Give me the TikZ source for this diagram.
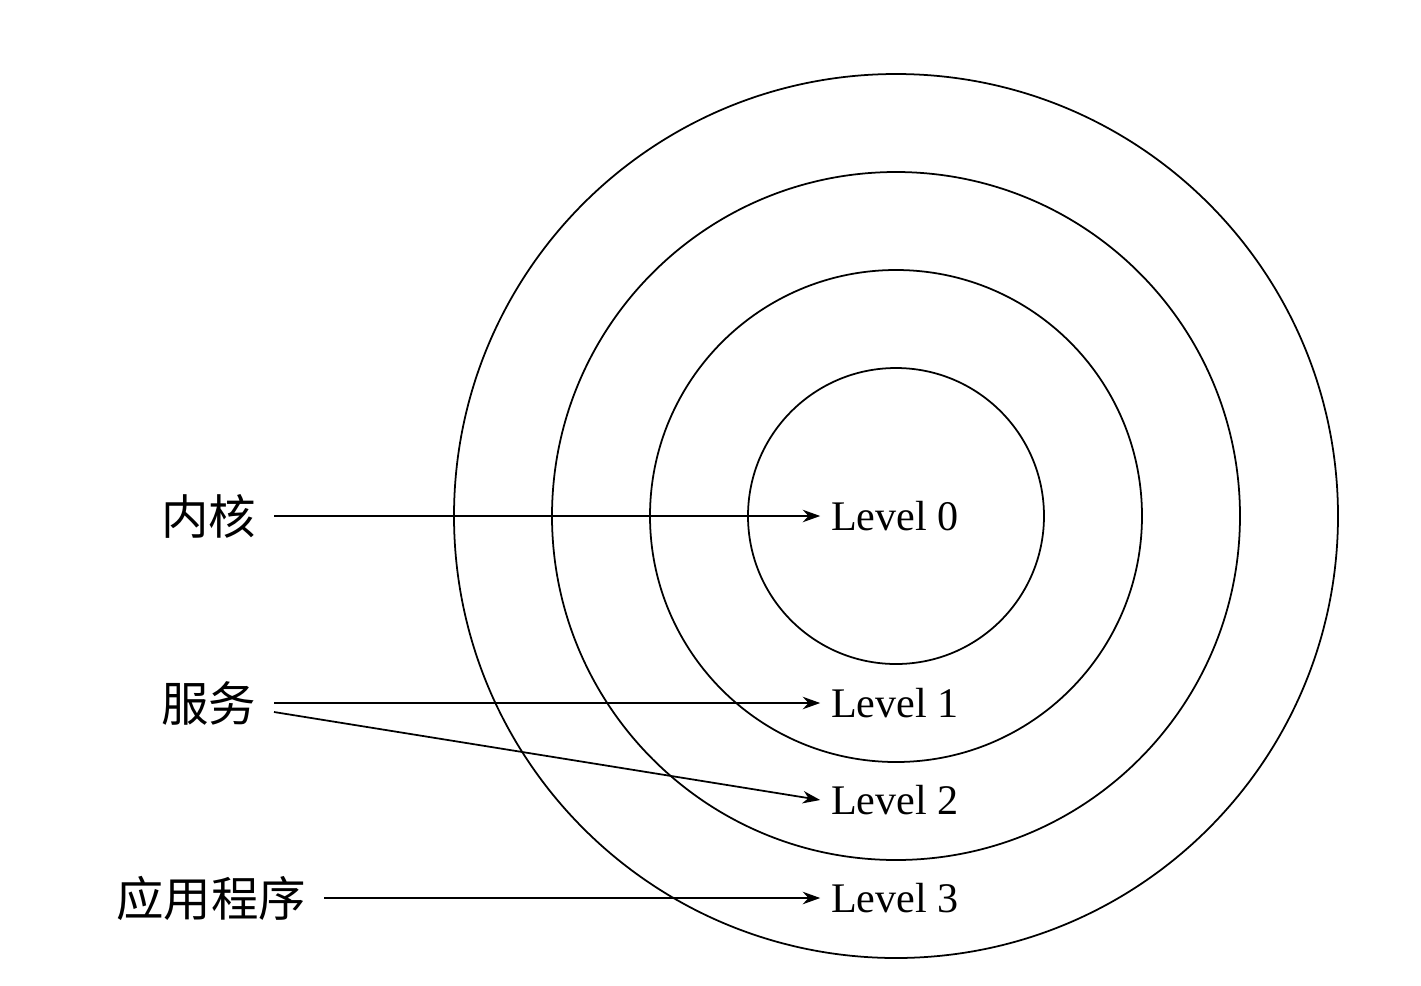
\documentclass[tikz,border=0pt]{standalone}
\usepackage{fontspec}
\setmainfont{Liberation Serif}
\newfontfamily\cjk{Noto Sans CJK SC}
\usetikzlibrary{arrows.meta, positioning}

\begin{document}
\begin{tikzpicture}[x=0.02cm, y=-0.02cm,
  ring/.style = {draw, line width=1pt},
  lvl/.style = {anchor=west, inner sep=1pt, font=\fontsize{24}{26}\selectfont},
  role/.style = {anchor=east, inner sep=1pt, font=\cjk\fontsize{27}{30}\selectfont},
  arrow/.style = {-{Stealth[length=3.5mm, width=2.5mm]}, line width=1pt}
]
\useasboundingbox (0,0) rectangle (1421,985);
\foreach \r in {148, 246, 344, 442}
  \draw[ring] (896,516) circle (\r);
\node[lvl] (level0) at (829,516) {Level 0};
\node[lvl] (level1) at (829,703) {Level 1};
\node[lvl] (level2) at (829,800) {Level 2};
\node[lvl] (level3) at (829,898) {Level 3};
\node[role] (kernel) at (258,516) {内核};
\node[role] (service) at (258,703) {服务};
\node[role] (app) at (308,898) {应用程序};
\draw[arrow] (kernel.east) ++(16,0) -- ([xshift=-5]level0.west);
\draw[arrow] (service.east) ++(16,0) -- ([xshift=-5]level1.west);
\draw[arrow] (service.east) ++(16,9) -- ([xshift=-5]level2.west);
\draw[arrow] (app.east) ++(16,0) -- ([xshift=-5]level3.west);
\end{tikzpicture}
\end{document}
